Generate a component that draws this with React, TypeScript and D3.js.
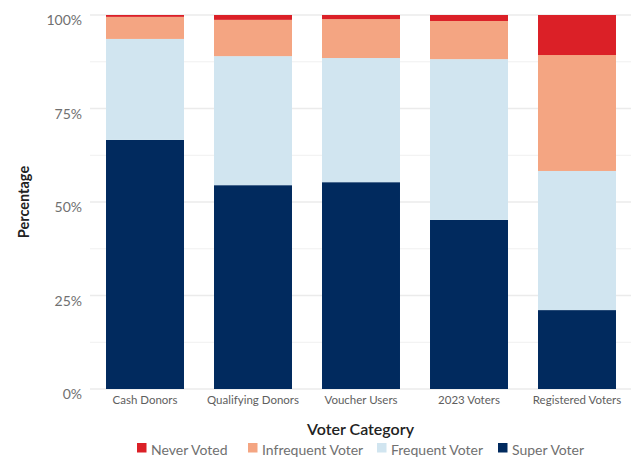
import React from "react";
import * as d3 from "d3";

const categories = ["Cash Donors", "Qualifying Donors", "Voucher Users", "2023 Voters", "Registered Voters"];
const seriesNames = ["Super Voter", "Frequent Voter", "Infrequent Voter", "Never Voted"];
const superVoter = [66.6, 54.5, 55.3, 45.2, 21.1];
const frequentVoter = [27.0, 34.5, 33.2, 43.0, 37.2];
const infrequentVoter = [5.9, 9.7, 10.4, 10.2, 31.0];
const neverVoted = [0.5, 1.3, 1.1, 1.6, 10.7];
const yTicks = [0, 25, 50, 75, 100];
const yMinor = [12.5, 37.5, 62.5, 87.5];
const legendOrder = ["Never Voted", "Infrequent Voter", "Frequent Voter", "Super Voter"];

const colors: Record<string, string> = {
  "Super Voter": "#012a5e",
  "Frequent Voter": "#d1e5f0",
  "Infrequent Voter": "#f4a582",
  "Never Voted": "#db2027",
};

const W = 631, H = 458;
const FONT = "Lato, 'Open Sans', sans-serif";

export default function App() {
  const x = d3.scaleBand<string>().domain(categories).range([91, 631]).paddingInner(0.278).paddingOuter(0.139);
  const y = d3.scaleLinear().domain([0, 100]).range([389, 15]);

  const rows = categories.map((c, i) => ({
    cat: c,
    "Super Voter": superVoter[i],
    "Frequent Voter": frequentVoter[i],
    "Infrequent Voter": infrequentVoter[i],
    "Never Voted": neverVoted[i],
  }));
  const stack = d3.stack<any>().keys(seriesNames).offset(d3.stackOffsetExpand)(rows);

  const legendX = [137, 248, 377, 498];

  return (
    <svg width={W} height={H} style={{ position: "absolute", left: 0, top: 0, fontFamily: FONT }}>
      <rect width={W} height={H} fill="#fff" />
      {yMinor.map((t) => (
        <line key={"m" + t} x1={90} x2={631} y1={y(t)} y2={y(t)} stroke="#f0f0f0" strokeWidth={1} />
      ))}
      {yTicks.map((t) => (
        <line key={"g" + t} x1={90} x2={631} y1={y(t)} y2={y(t)} stroke="#ebebeb" strokeWidth={1.5} />
      ))}
      {stack.map((s) => (
        <g key={s.key} fill={colors[s.key]}>
          {s.map((d: any) => (
            <rect
              key={d.data.cat}
              x={x(d.data.cat)}
              width={x.bandwidth()}
              y={y(d[1] * 100)}
              height={y(d[0] * 100) - y(d[1] * 100)}
            />
          ))}
        </g>
      ))}
      {yTicks.map((t) => (
        <text key={"yl" + t} x={82} y={y(t) + 10} textAnchor="end" fontSize={14} fill="#707070">
          {t + "%"}
        </text>
      ))}
      {categories.map((c) => (
        <text key={c} x={(x(c) as number) + x.bandwidth() / 2} y={404} textAnchor="middle" fontSize={11.5} fill="#5e5e5e">
          {c}
        </text>
      ))}
      <text transform={`translate(29,${y(50)}) rotate(-90)`} textAnchor="middle" fontSize={14.5} fontWeight="bold" fill="#222">
        Percentage
      </text>
      <text x={360.5} y={435} textAnchor="middle" fontSize={16} fontWeight="600" fill="#222">
        Voter Category
      </text>
      {legendOrder.map((k, i) => (
        <g key={k}>
          <rect x={legendX[i]} y={443} width={9.5} height={9.5} fill={colors[k]} />
          <text x={legendX[i] + 14} y={455} fontSize={14} fill="#707070">
            {k}
          </text>
        </g>
      ))}
    </svg>
  );
}
